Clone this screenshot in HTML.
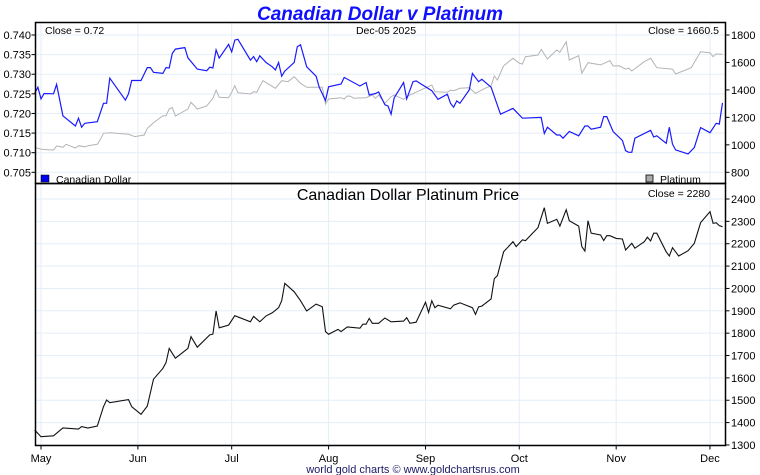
<!DOCTYPE html>
<html><head><meta charset="utf-8"><style>
body{margin:0;background:#fff;}
svg{display:block;font-family:"Liberation Sans",sans-serif;}
</style></head><body>
<svg id="c" width="760" height="475"></svg>
<script>
const monthLabels=["May","Jun","Jul","Aug","Sep","Oct","Nov","Dec"];
const monthDays=[0,31,61,92,123,153,184,214];
const cadDays=[-2,-1,0,1,4,5,7,11,12,13,14,18,20,21,22,27,28,29,32,34,35,36,39,40,41,42,43,46,47,50,53,54,55,56,57,60,61,62,63,67,68,69,70,72,74,75,76,77,78,81,82,83,85,88,89,91,92,96,97,102,104,105,107,108,110,111,112,113,116,117,119,120,125,127,130,131,132,133,134,137,138,140,141,144,147,151,154,160,161,162,165,166,167,169,172,174,175,176,179,180,181,183,186,187,188,189,190,195,196,197,200,201,202,203,207,209,211,214,216,217,218];
const cadValues=[0.7251,0.7267,0.7237,0.7251,0.7250,0.7274,0.7194,0.7168,0.7188,0.7165,0.7175,0.7179,0.7226,0.7226,0.7290,0.7234,0.7250,0.7284,0.7284,0.7317,0.7317,0.7305,0.7302,0.7317,0.7316,0.7353,0.7364,0.7368,0.7342,0.7313,0.7309,0.7318,0.7316,0.7362,0.7341,0.7376,0.7357,0.7387,0.7389,0.7336,0.7345,0.7332,0.7347,0.7330,0.7319,0.7311,0.7330,0.7295,0.7308,0.7330,0.7370,0.7375,0.7319,0.7295,0.7267,0.7233,0.7268,0.7275,0.7292,0.7270,0.7279,0.7247,0.7251,0.7255,0.7222,0.7219,0.7198,0.7240,0.7279,0.7237,0.7281,0.7283,0.7258,0.7236,0.7249,0.7226,0.7216,0.7232,0.7226,0.7260,0.7302,0.7281,0.7287,0.7267,0.7198,0.7213,0.7188,0.7190,0.7149,0.7165,0.7145,0.7145,0.7137,0.7154,0.7143,0.7168,0.7168,0.7160,0.7165,0.7192,0.7192,0.7154,0.7131,0.7105,0.7101,0.7101,0.7137,0.7157,0.7140,0.7143,0.7124,0.7165,0.7122,0.7107,0.7097,0.7113,0.7164,0.7151,0.7175,0.7173,0.7227];
const ptDays=[-2,0,4,5,7,8,11,12,14,15,18,19,20,22,28,30,33,34,36,39,40,41,42,43,47,48,50,53,55,56,57,60,61,62,63,67,68,69,71,75,77,79,81,83,85,90,91,92,96,97,98,99,100,104,106,107,108,110,112,113,116,118,121,125,126,130,131,132,134,137,139,142,144,145,146,148,151,153,154,155,159,160,162,165,166,168,169,172,173,175,179,182,183,185,187,188,189,193,195,197,202,203,208,211,214,215,216,218];
const ptValues=[982,968,962,992,982,1004,977,994,986,994,1004,1040,1084,1088,1077,1060,1072,1120,1161,1212,1212,1261,1273,1210,1261,1310,1261,1283,1339,1399,1346,1343,1383,1431,1380,1370,1387,1383,1467,1412,1467,1460,1496,1448,1419,1419,1297,1334,1343,1334,1356,1354,1339,1343,1363,1339,1363,1302,1351,1363,1332,1363,1394,1436,1387,1383,1399,1394,1412,1416,1375,1412,1429,1502,1472,1576,1630,1594,1589,1642,1654,1696,1625,1691,1674,1751,1618,1649,1521,1598,1582,1613,1574,1576,1552,1558,1538,1606,1630,1562,1552,1516,1562,1678,1671,1642,1662,1659];
const ratioDays=[-2,0,4,7,12,13,15,18,20,21,22,28,29,32,34,36,39,40,41,43,47,48,50,54,55,56,57,60,62,67,68,70,72,74,76,77,78,81,83,85,88,90,91,92,95,96,98,102,103,104,105,106,108,110,112,116,117,118,120,123,124,125,126,127,131,132,134,138,139,140,141,144,145,146,148,151,152,154,155,159,161,162,165,166,168,169,172,173,174,175,176,179,180,181,182,184,186,187,189,190,193,194,195,196,197,200,201,202,204,207,209,211,214,215,216,217,218];
const ratioValues=[1367,1337,1341,1376,1371,1382,1376,1385,1471,1501,1489,1503,1471,1437,1474,1594,1643,1668,1732,1688,1732,1784,1737,1792,1796,1899,1824,1836,1878,1851,1875,1851,1877,1891,1914,1945,2023,1985,1945,1899,1930,1918,1807,1795,1817,1807,1828,1822,1840,1840,1866,1844,1844,1868,1851,1854,1869,1844,1849,1938,1893,1945,1914,1925,1909,1925,1936,1914,1884,1918,1921,1953,2044,2057,2164,2209,2187,2217,2214,2272,2361,2291,2309,2279,2352,2303,2279,2187,2167,2303,2247,2239,2214,2236,2236,2224,2221,2172,2202,2180,2209,2229,2212,2247,2247,2164,2145,2182,2145,2169,2202,2294,2343,2291,2294,2281,2276];
const cadTicks=[0.705,0.710,0.715,0.720,0.725,0.730,0.735,0.740];
const ptTicks=[800,1000,1200,1400,1600,1800];
const ratioTicks=[1300,1400,1500,1600,1700,1800,1900,2000,2100,2200,2300,2400];

const NS="http://www.w3.org/2000/svg";
const svg=document.getElementById('c');
function el(t,a,txt){const e=document.createElementNS(NS,t);for(const k in a)e.setAttribute(k,a[k]);if(txt!==undefined)e.textContent=txt;svg.appendChild(e);return e;}
const L=35.5,R=725.5,T1=22.5,B1=183.5,B2=445.5;
const xs=d=>41+d*3.126;
const yCad=v=>35+(0.740-v)*3923;
const yPt=v=>35+(1800-v)*0.1373;
const yR=v=>199+(2400-v)*0.2236;

// grids
monthDays.forEach(d=>{const g=el('line',{x1:xs(d),x2:xs(d),y1:T1,y2:B2,stroke:'#e3eef8','stroke-width':1});});
cadTicks.forEach(v=>{const g=el('line',{x1:L,x2:R,y1:yCad(v),y2:yCad(v),stroke:'#e3eef8'});});
ratioTicks.forEach(v=>{const g=el('line',{x1:L,x2:R,y1:yR(v),y2:yR(v),stroke:'#e3eef8'});});

function line(days,vals,yf,color,name,w){const p=days.map((d,i)=>(i?'L':'M')+xs(d).toFixed(1)+' '+yf(vals[i]).toFixed(1)).join('');const e=el('path',{d:p,fill:'none',stroke:color,'stroke-width':w});}
line(ptDays,ptValues,yPt,'#b4b4b4','platinum-line',1);
line(cadDays,cadValues,yCad,'#1a1aff','cad-line',1.2);
line(ratioDays,ratioValues,yR,'#111','ratio-line',1.1);

// frames
let f=el('rect',{x:L,y:T1,width:R-L,height:B1-T1,fill:'none',stroke:'#000','stroke-width':1.5});
f=el('rect',{x:L,y:B1,width:R-L,height:B2-B1,fill:'none',stroke:'#000','stroke-width':1.5});

cadTicks.forEach(v=>{const y=yCad(v);el('line',{x1:L-4,x2:L,y1:y,y2:y,stroke:'#000'});const t=el('text',{x:31,y:y+4,'text-anchor':'end','font-size':11},v.toFixed(3));});
ptTicks.forEach(v=>{const y=yPt(v);el('line',{x1:R,x2:R+4,y1:y,y2:y,stroke:'#000'});const t=el('text',{x:731,y:y+4,'font-size':11},v);});
ratioTicks.forEach(v=>{const y=yR(v);el('line',{x1:R,x2:R+4,y1:y,y2:y,stroke:'#000'});const t=el('text',{x:731,y:y+4,'font-size':11},v);});
monthDays.forEach((d,i)=>{const x=xs(d);el('line',{x1:x,x2:x,y1:B2,y2:B2+4,stroke:'#000'});const t=el('text',{x:x,y:462,'text-anchor':'middle','font-size':11},monthLabels[i]);});
</script>
<script>
(function(){
const NS="http://www.w3.org/2000/svg",svg=document.getElementById('c');
function t(a,s,n){const e=document.createElementNS(NS,'text');for(const k in a)e.setAttribute(k,a[k]);e.textContent=s;svg.appendChild(e);return e;}
function r(a,n){const e=document.createElementNS(NS,'rect');for(const k in a)e.setAttribute(k,a[k]);svg.appendChild(e);}
t({x:380,y:20,'text-anchor':'middle','font-size':19,'font-weight':'bold','font-style':'italic',fill:'#1010ff'},'Canadian Dollar v Platinum','chart-title');
t({x:45,y:34,'font-size':10.5},'Close = 0.72','cad-close');
t({x:386,y:34,'text-anchor':'middle','font-size':10.5},'Dec-05  2025','date-label');
t({x:719,y:34,'text-anchor':'end','font-size':10.5},'Close = 1660.5','platinum-close');
r({x:41,y:175,width:8,height:7,fill:'#0000ee',stroke:'#000','stroke-width':0.5},'cad-legend-swatch');
t({x:56,y:183,'font-size':10.5},'Canadian Dollar','cad-legend-label');
r({x:646,y:175,width:7,height:7,fill:'#aaa',stroke:'#000','stroke-width':0.8},'platinum-legend-swatch');
t({x:660,y:183,'font-size':10.5},'Platinum','platinum-legend-label');
t({x:408,y:200,'text-anchor':'middle','font-size':16},'Canadian Dollar Platinum Price','bottom-title');
t({x:710,y:197,'text-anchor':'end','font-size':10.5},'Close = 2280','ratio-close');
t({x:413,y:473,'text-anchor':'middle','font-size':11,fill:'#1a1a66'},'world gold charts © www.goldchartsrus.com','footer');
})();
</script>
</body></html>
